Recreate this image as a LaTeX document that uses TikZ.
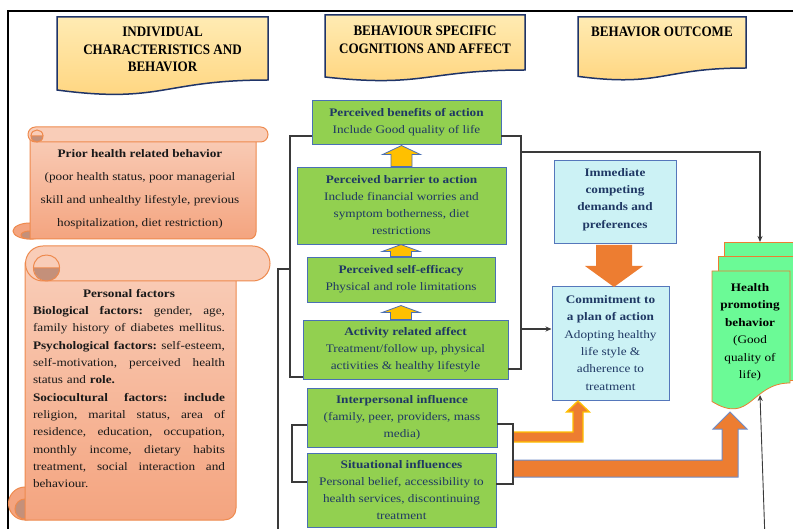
\documentclass[tikz,border=0pt]{standalone}
\usepackage{fontspec}
\setmainfont{Liberation Serif}[FakeStretch=1.15]
\newfontfamily\hdrfont{Liberation Serif}[FakeStretch=0.9]
\usetikzlibrary{calc,arrows.meta}
\definecolor{navy}{HTML}{1F3864}
\definecolor{hbord}{HTML}{1F3468}
\definecolor{hA}{HTML}{FFEBB3}
\definecolor{hB}{HTML}{FFD47C}
\definecolor{gfill}{HTML}{92D050}
\definecolor{gbord}{HTML}{4A70B5}
\definecolor{cfill}{HTML}{CCF2F5}
\definecolor{cbord}{HTML}{5577BB}
\definecolor{sA}{HTML}{F9CDB8}
\definecolor{sB}{HTML}{F4A47F}
\definecolor{sbord}{HTML}{EE8A4E}
\definecolor{sdark}{HTML}{C4907A}
\definecolor{ofill}{HTML}{ED7D31}
\definecolor{ygold}{HTML}{FFC000}
\definecolor{hpfill}{HTML}{6BFA96}
\definecolor{lcol}{HTML}{3A3A3A}
\definecolor{bblue}{HTML}{6F8DC8}
\newcommand\jl[1]{\makebox[192pt][s]{\frenchspacing\spaceskip=0.25em plus 1fil\xspaceskip=0.25em plus 1fil\relax #1}}
\newcommand\yarrowat[3]{\draw[yarr, shift={(#1)}] (-10.5,0) -- (-10.5,#2) -- (-19,#2) -- (0,#3) -- (19,#2) -- (10.5,#2) -- (10.5,0) -- cycle;}
\tikzset{
  gbox/.style={draw=gbord, fill=gfill, line width=0.9pt, inner sep=0pt, text=navy, align=center, font=\fontsize{11.5}{17}\selectfont},
  cbox/.style={draw=cbord, fill=cfill, line width=1pt, inner sep=0pt},
  ctext/.style={text=navy, align=center, inner sep=0pt, font=\fontsize{11.5}{17.3}\selectfont},
  conn/.style={draw=lcol, line width=1.1pt},
  yarr/.style={draw=gbord, fill=ygold, line width=0.8pt},
  hdr/.style={draw=hbord, line width=1.5pt, top color=hA, bottom color=hB},
  hdrtext/.style={font=\hdrfont\bfseries\fontsize{14.5}{17.5}\selectfont, align=center, inner sep=0pt},
  scrollbody/.style={draw=sbord, line width=1pt, top color=sA, bottom color=sB},
  rollfill/.style={draw=sbord, line width=1pt, fill=sA},
  curl/.style={draw=sbord, line width=1pt, fill=sdark},
  stext/.style={text=black!90, inner sep=0pt},
  hpdoc/.style={draw=ofill, line width=0.8pt, fill=hpfill},
  tip/.style={-{Stealth[length=6pt,width=5pt]}},
}
\begin{document}
\begin{tikzpicture}[x=1pt,y=-1pt]
\useasboundingbox (0,0) rectangle (793,529);
\fill[white] (0,0) rectangle (793,529);
% frame
\draw[black, line width=1.2pt] (8,540) -- (8,11) -- (800,11);

% headers
\draw[hdr] (57,17) -- (268,17) -- (268,80) .. controls (162,80) and (162,104) .. (57,90) -- cycle;
\node[hdrtext] (H1) at (162.5,49.5) {INDIVIDUAL\\CHARACTERISTICS AND\\BEHAVIOR};
\draw[hdr] (325,15) -- (525,15) -- (525,70) .. controls (425,70) and (425,88) .. (325,77) -- cycle;
\node[hdrtext] (H2) at (425,40) {BEHAVIOUR SPECIFIC\\COGNITIONS AND AFFECT};
\draw[hdr] (578,17) -- (746,17) -- (746,68) .. controls (662,68) and (662,87.4) .. (578,76.4) -- cycle;
\node[hdrtext] (H3) at (662,32) {BEHAVIOR OUTCOME};

% scroll 1
\draw[rollfill, fill=sB] (30,231) ellipse[x radius=17, y radius=8];
\draw[curl] (30,235) ellipse[x radius=9, y radius=4];
\draw[scrollbody] (30,134) -- (256,134) -- (256,232) .. controls (256,236) and (253,239) .. (249,239) -- (30,239) -- cycle;
\draw[rollfill, rounded corners=7.4] (28,127) rectangle (268,142);
\draw[curl] (31,136) .. controls (31,144) and (43,144) .. (43,136) -- cycle;
\draw[sbord, line width=1pt] (31,136) .. controls (31,128) and (43,128) .. (43,136);
\node[stext, align=center, font=\fontsize{11.5}{23}\selectfont] (PH) at (140,189.5) {\textbf{Prior health related behavior}\\(poor health status, poor managerial\\skill and unhealthy lifestyle, previous\\hospitalization, diet restriction)};

% scroll 2
\draw[rollfill, fill=sB] (25,503.5) circle[radius=16.5];
\draw[curl] (25,509) circle[radius=10];
\draw[scrollbody] (25,263) -- (236,263) -- (236,508) .. controls (236,515) and (231,520) .. (224,520) -- (25,520) -- cycle;
\draw[rollfill, rounded corners=17.4] (25.5,246) rectangle (270,281);
\draw[curl] (33.5,268) .. controls (33.5,285.3) and (59.5,285.3) .. (59.5,268) -- cycle;
\draw[sbord, line width=1pt] (33.5,268) .. controls (33.5,250.7) and (59.5,250.7) .. (59.5,268);
\node[stext, align=left, text width=192pt, font=\fontsize{11.5}{17.35}\selectfont] (PF) at (129,388.5) {%
\makebox[192pt][c]{\textbf{Personal factors}}\\
\jl{\textbf{Biological factors:} gender, age,}\\
\jl{family history of diabetes mellitus.}\\
\jl{\textbf{Psychological factors:} self-esteem,}\\
\jl{self-motivation, perceived health}\\
status and \textbf{role.}\\
\jl{\textbf{Sociocultural factors: include}}\\
\jl{religion, marital status, area of}\\
\jl{residence, education, occupation,}\\
\jl{monthly income, dietary habits}\\
\jl{treatment, social interaction and}\\
behaviour.};

% green boxes
\node[gbox, minimum width=189, minimum height=44] (G1) at (406.5,122) {\textbf{Perceived benefits of action}\\Include Good quality of life};
\node[gbox, minimum width=209, minimum height=77] (G2) at (401.5,205.5) {\textbf{Perceived barrier to action}\\Include financial worries and\\symptom botherness, diet\\restrictions};
\node[gbox, minimum width=188, minimum height=45] (G3) at (401,279.5) {\textbf{Perceived self-efficacy}\\Physical and role limitations};
\node[gbox, minimum width=205, minimum height=59] (G4) at (405.5,349.5) {\textbf{Activity related affect}\\Treatment/follow up, physical\\activities \& healthy lifestyle};
\node[gbox, minimum width=190, minimum height=59] (G5) at (402,417.5) {\textbf{Interpersonal influence}\\(family, peer, providers, mass\\media)};
\node[gbox, minimum width=189, minimum height=74] (G6) at (401.5,490) {\textbf{Situational influences}\\Personal belief, accessibility to\\health services, discontinuing\\treatment};

% yellow arrows
\yarrowat{G2.north}{-12}{-21}
\yarrowat{G3.north}{-5}{-12}
\yarrowat{G4.north -| G3.north}{-7}{-14}

% cyan boxes
\node[cbox, minimum width=122, minimum height=83] (IM) at (615,202.5) {};
\node[ctext, font=\bfseries\fontsize{11.5}{17.3}\selectfont] (IMt) at ($(IM.center)+(0,-3)$) {Immediate\\competing\\demands and\\preferences};
\node[cbox, minimum width=117, minimum height=114] (CM) at (610.5,344) {};
\node[ctext] (CMt) at ($(CM.center)+(0,-1)$) {\textbf{Commitment to}\\\textbf{a plan of action}\\Adopting healthy\\life style \&\\adherence to\\treatment};

% orange down arrow
\fill[ofill] (596,245) -- (632,245) -- (632,266) -- (643,266) -- (614,287) -- (585,266) -- (596,266) -- cycle;

% health promoting behavior (multi document)
\node[hpdoc, minimum width=84, minimum height=125, anchor=north west, inner sep=0pt] (HB3) at (724,242) {};
\node[hpdoc, minimum width=84, minimum height=124, anchor=north west, inner sep=0pt] (HB2) at (718,256) {};
\draw[hpdoc] (712,271) -- (790,271) -- (790,383) .. controls (751,383) and (751,425.6) .. (712,401.5) -- cycle;
\node[inner sep=0pt, align=center, font=\fontsize{11.5}{17.5}\selectfont] (HP) at (750,332) {\textbf{Health}\\\textbf{promoting}\\\textbf{behavior}\\(Good\\quality of\\life)};

% orange bent arrows
\draw[fill=ofill, draw=ygold, line width=1.3pt] (513,432) -- (573,432) -- (573,412) -- (566.5,412) -- (578,401) -- (589.5,412) -- (583,412) -- (583,442) -- (513,442) -- cycle;
\draw[fill=ofill, draw=bblue, line width=1pt] (513,460) -- (722,460) -- (722,429) -- (713,429) -- (730,412) -- (747,429) -- (738,429) -- (738,477) -- (513,477) -- cycle;

% connector coordinates
\coordinate (LB1t) at (290,136);
\coordinate (LB1m) at (290,269);
\coordinate (LB1b) at (290,377);
\coordinate (LV) at (278,269);
\coordinate (LVend) at (278,540);
\coordinate (LB2t) at (292,425);
\coordinate (LB2b) at (292,482);
\coordinate (RB1t) at (521,136);
\coordinate (RB1a) at (521,152);
\coordinate (RB1c) at (521,329);
\coordinate (RB1b) at (521,369);
\coordinate (RT) at (760,152);
\coordinate (RB2t) at (513,424);
\coordinate (RB2b) at (513,484);
\coordinate (HBot) at (765,540);
\coordinate (HPw) at (760,395);

% connectors
\draw[conn] (G1.west |- LB1t) -- (LB1t) -- (LB1b) -- (G4.west |- LB1b);
\draw[conn] (LB1m) -- (LV) -- (LVend);
\draw[conn] (G5.west |- LB2t) -- (LB2t) -- (LB2b) -- (G6.west |- LB2b);
\draw[conn] (G1.east |- RB1t) -- (RB1t) -- (RB1b) -- (G4.east |- RB1b);
\draw[conn, tip] (RB1a) -- (RT) -- (HB3.north -| RT);
\draw[conn, tip] (RB1c) -- (CM.west |- RB1c);
\draw[conn] (G5.east |- RB2t) -- (RB2t) -- (RB2b) -- (G6.east |- RB2b);
\draw[draw=lcol, line width=0.9pt, tip] (HBot) -- (HPw);
\end{tikzpicture}
\end{document}
